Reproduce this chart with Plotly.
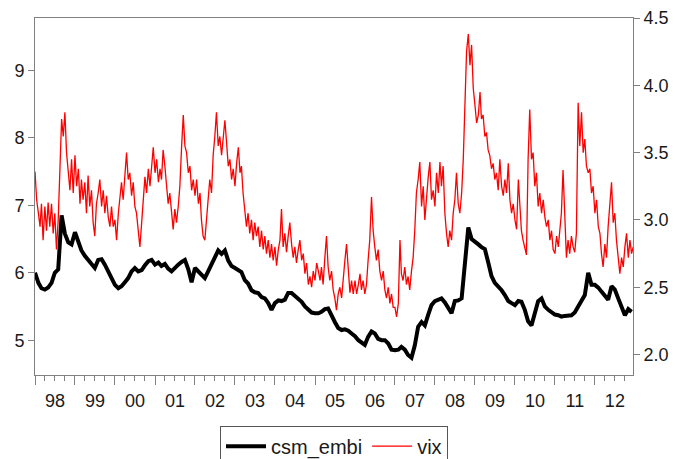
import pandas as pd
import plotly.graph_objects as go

# ---- data ----
years = list(range(1998, 2013))

# vix (log scale values), two readings per month (1st and 16th), right axis
vix_by_year = {
    1998: [3.36, 3.15, 3.05, 2.95, 3.12, 2.85, 3.10, 2.92, 3.13, 2.95, 3.12, 2.90, 3.05, 2.78, 3.00, 3.35, 3.75, 3.62, 3.80, 3.50, 3.38, 3.22, 3.45, 3.20],
    1999: [3.48, 3.25, 3.38, 3.12, 3.30, 3.15, 3.28, 3.05, 3.33, 3.10, 3.22, 2.98, 2.88, 3.12, 3.20, 3.30, 3.10, 3.22, 3.05, 3.18, 3.02, 2.95, 3.10, 2.95],
    2000: [3.00, 2.85, 3.05, 3.20, 3.28, 3.15, 3.38, 3.50, 3.30, 3.35, 3.18, 3.28, 3.10, 3.05, 2.92, 2.80, 2.98, 3.15, 3.32, 3.20, 3.38, 3.25, 3.42, 3.54],
    2001: [3.35, 3.45, 3.28, 3.38, 3.30, 3.52, 3.40, 3.25, 3.12, 3.20, 3.05, 2.93, 3.08, 2.98, 3.10, 3.25, 3.55, 3.78, 3.55, 3.50, 3.35, 3.40, 3.22, 3.30],
    2002: [3.18, 3.30, 3.12, 3.20, 3.00, 2.88, 2.85, 3.00, 3.10, 3.30, 3.20, 3.48, 3.62, 3.80, 3.55, 3.62, 3.48, 3.60, 3.74, 3.58, 3.40, 3.45, 3.30, 3.38],
    2003: [3.25, 3.42, 3.54, 3.35, 3.40, 3.20, 3.08, 2.95, 3.05, 2.90, 3.00, 2.85, 2.98, 2.88, 2.95, 2.80, 2.92, 2.78, 2.88, 2.75, 2.85, 2.72, 2.82, 2.70],
    2004: [2.80, 2.66, 2.78, 2.85, 3.08, 2.80, 2.90, 2.76, 2.88, 2.98, 2.82, 2.72, 2.80, 2.68, 2.78, 2.85, 2.70, 2.75, 2.60, 2.68, 2.52, 2.58, 2.50, 2.62],
    2005: [2.55, 2.68, 2.62, 2.55, 2.65, 2.52, 2.72, 2.88, 2.65, 2.55, 2.62, 2.48, 2.42, 2.33, 2.45, 2.50, 2.42, 2.58, 2.70, 2.82, 2.60, 2.46, 2.55, 2.45],
    2006: [2.55, 2.45, 2.52, 2.60, 2.48, 2.55, 2.45, 2.52, 2.70, 2.85, 3.17, 2.92, 2.80, 2.70, 2.78, 2.62, 2.55, 2.62, 2.48, 2.42, 2.50, 2.38, 2.45, 2.35],
    2007: [2.35, 2.28, 2.38, 2.85, 2.60, 2.55, 2.65, 2.52, 2.58, 2.48, 2.62, 2.72, 2.92, 3.20, 3.30, 3.43, 3.10, 3.25, 3.00, 3.18, 3.32, 3.43, 3.15, 3.22],
    2008: [3.10, 3.35, 3.20, 3.43, 3.25, 3.40, 3.05, 2.90, 2.80, 2.92, 2.85, 3.05, 3.15, 3.35, 3.12, 3.05, 3.20, 3.45, 3.90, 4.25, 4.38, 4.15, 4.30, 3.98],
    2009: [3.85, 3.72, 3.78, 3.95, 3.75, 3.78, 3.62, 3.65, 3.52, 3.48, 3.38, 3.42, 3.30, 3.35, 3.22, 3.45, 3.25, 3.18, 3.30, 3.20, 3.42, 3.15, 3.05, 3.12],
    2010: [3.00, 2.93, 3.30, 3.05, 2.92, 2.85, 2.80, 2.74, 3.45, 3.82, 3.45, 3.50, 3.25, 3.35, 3.10, 3.20, 3.05, 3.15, 3.02, 2.95, 3.00, 2.85, 2.92, 2.78],
    2011: [2.75, 2.88, 2.80, 2.92, 3.05, 3.37, 2.95, 2.72, 2.85, 2.75, 2.88, 2.80, 2.76, 2.90, 3.87, 3.55, 3.80, 3.50, 3.60, 3.40, 3.35, 3.38, 3.20, 3.25],
    2012: [3.05, 3.15, 2.95, 2.90, 2.75, 2.65, 2.82, 2.72, 2.95, 3.10, 3.28, 2.98, 3.05, 2.85, 2.70, 2.60, 2.72, 2.65, 2.80, 2.90, 2.72, 2.85, 2.75, 2.80],
}

# csm_embi, one reading per month (1st), left axis
embi_by_year = {
    1998: [6.00, 5.85, 5.77, 5.75, 5.78, 5.85, 6.00, 6.05, 6.85, 6.58, 6.45, 6.42],
    1999: [6.60, 6.45, 6.33, 6.25, 6.19, 6.15, 6.07, 6.19, 6.20, 6.12, 6.02, 5.90],
    2000: [5.82, 5.77, 5.80, 5.86, 5.92, 6.02, 6.07, 6.02, 6.04, 6.11, 6.17, 6.19],
    2001: [6.12, 6.15, 6.10, 6.13, 6.06, 6.02, 6.08, 6.12, 6.16, 6.19, 6.05, 5.86],
    2002: [6.07, 6.02, 5.98, 5.92, 6.02, 6.12, 6.25, 6.33, 6.28, 6.33, 6.18, 6.10],
    2003: [6.07, 6.04, 6.01, 5.89, 5.84, 5.74, 5.71, 5.70, 5.64, 5.62, 5.55, 5.45],
    2004: [5.55, 5.59, 5.58, 5.60, 5.70, 5.70, 5.66, 5.60, 5.57, 5.50, 5.45, 5.41],
    2005: [5.40, 5.40, 5.42, 5.46, 5.47, 5.36, 5.27, 5.18, 5.15, 5.16, 5.14, 5.10],
    2006: [5.06, 5.00, 4.97, 4.93, 5.05, 5.13, 5.10, 5.02, 5.00, 5.00, 4.95, 4.86],
    2007: [4.85, 4.86, 4.90, 4.86, 4.78, 4.74, 4.92, 5.20, 5.27, 5.22, 5.38, 5.52],
    2008: [5.58, 5.60, 5.62, 5.56, 5.48, 5.40, 5.58, 5.59, 5.62, 6.15, 6.67, 6.50],
    2009: [6.45, 6.42, 6.38, 6.35, 6.16, 5.95, 5.85, 5.80, 5.74, 5.67, 5.58, 5.55],
    2010: [5.52, 5.58, 5.57, 5.45, 5.28, 5.22, 5.40, 5.58, 5.62, 5.50, 5.45, 5.42],
    2011: [5.38, 5.37, 5.35, 5.36, 5.37, 5.37, 5.41, 5.50, 5.60, 5.67, 6.00, 5.82],
    2012: [5.82, 5.78, 5.72, 5.65, 5.60, 5.80, 5.75, 5.62, 5.48, 5.37, 5.46, 5.42],
}

left_ticks = [5, 6, 7, 8, 9]
right_ticks = [2.0, 2.5, 3.0, 3.5, 4.0, 4.5]

# ---- assemble series ----
vix_dates, vix_vals = [], []
embi_dates, embi_vals = [], []
for y in years:
    half_month = [pd.Timestamp(y, m, d) for m in range(1, 13) for d in (1, 16)]
    for dt, v in zip(half_month, vix_by_year[y]):
        vix_dates.append(dt)
        vix_vals.append(v)
    month = [pd.Timestamp(y, m, 1) for m in range(1, 13)]
    for dt, v in zip(month, embi_by_year[y]):
        embi_dates.append(dt)
        embi_vals.append(v)

AX = "#808080"
FONT = "Liberation Sans, Arial, sans-serif"

fig = go.Figure()
fig.add_trace(go.Scatter(x=embi_dates, y=embi_vals, name="csm_embi", mode="lines",
                         line=dict(color="black", width=4), yaxis="y2"))
fig.add_trace(go.Scatter(x=vix_dates, y=vix_vals, name="vix", mode="lines",
                         line=dict(color="#ff0000", width=1.3), yaxis="y"))

fig.update_layout(
    width=675, height=459,
    margin=dict(l=35, r=42, t=18, b=84, autoexpand=False),
    paper_bgcolor="white", plot_bgcolor="white",
    font=dict(family=FONT, size=18, color="#1a1a1a"),
    showlegend=True,
    legend=dict(orientation="h", x=0.5, xanchor="center", y=-0.142, yanchor="top",
                bordercolor="#555555", borderwidth=1, font=dict(size=20),
                itemwidth=40, traceorder="normal"),
    xaxis=dict(type="date", range=["1998-01-01", "2012-12-14"],
               showline=True, linecolor=AX, linewidth=1, mirror=True,
               ticks="outside", ticklen=9, tickcolor=AX,
               dtick="M12", tick0="1998-01-01", tickformat="%y",
               ticklabelmode="period", showgrid=False, zeroline=False,
               minor=dict(dtick="M3", tick0="1998-01-01", ticks="outside",
                          ticklen=5, tickcolor=AX, showgrid=False)),
    yaxis=dict(side="right", range=[1.848, 4.5], tickvals=right_ticks,
               tickformat=".1f", ticks="outside", ticklen=6, tickcolor=AX,
               showline=True, linecolor=AX, linewidth=1, showgrid=False,
               zeroline=False),
    yaxis2=dict(side="left", overlaying="y", range=[4.484, 9.776],
                tickvals=left_ticks, ticks="outside", ticklen=6, tickcolor=AX,
                showline=True, linecolor=AX, linewidth=1, showgrid=False,
                zeroline=False),
)

fig.write_html("out.html", config={"displayModeBar": False},
               post_script="document.body.style.margin='0px';")
